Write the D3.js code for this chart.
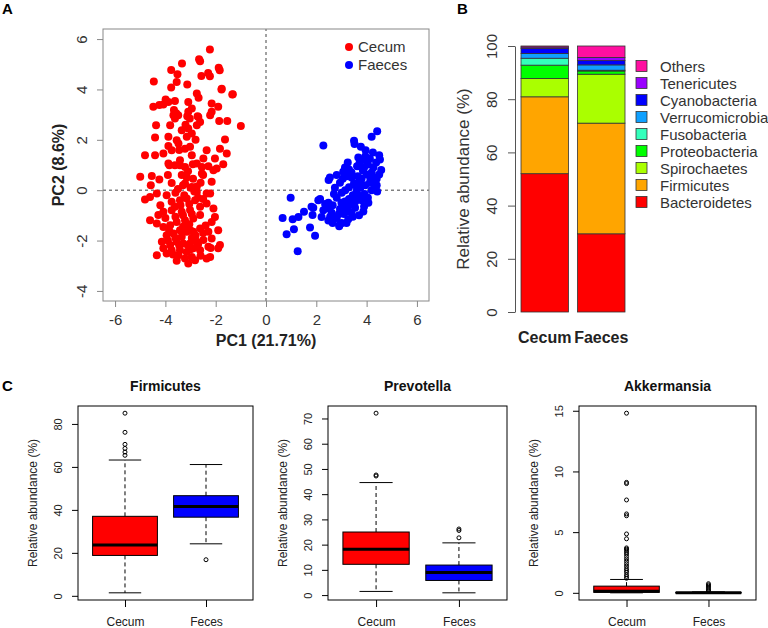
<!DOCTYPE html>
<html>
<head>
<meta charset="utf-8">
<script src="https://cdn.jsdelivr.net/npm/d3@7"></script>
<style>
  body { margin: 0; background: #fff; }
  svg { display: block; font-family: "Liberation Sans", Arial, Helvetica, sans-serif; }
</style>
</head>
<body>
<svg id="fig" width="768" height="628"></svg>
<script>
// ---- panel A: PCA scores (PC1, PC2) ----
const pcaCecum = [
  [-2.23,5.59],[-2.66,5.2],[-2.62,5.12],[-3.34,5.03],[-3.77,4.77],[-3.52,4.6],[-2.57,4.53],[-2.3,4.65],
  [-2.23,4.52],[-1.88,4.86],[-1.84,4.76],[-4.46,4.32],[-3.55,4.3],[-3.13,4.2],[-3.77,4.08],[-1.77,4.0],
  [-1.34,3.8],[-2.75,3.84],[-2.68,3.67],[-3.99,3.6],[-3.88,3.5],[-3.62,3.54],[-4.48,3.31],[-4.24,3.38],
  [-4.08,3.4],[-3.09,3.5],[-2.95,3.24],[-3.66,3.18],[-3.57,3.05],[-3.68,2.98],[-3.13,2.94],[-2.72,2.94],
  [-2.16,3.44],[-1.9,3.31],[-2.22,2.98],[-1.76,4.03],[-1.32,3.81],[-3.49,2.98],[-3.62,2.85],[-3.09,3.11],
  [-3.03,2.85],[-2.69,2.91],[-2.16,3.11],[-1.86,2.75],[-1.54,2.75],[-1.0,2.55],[-4.37,2.58],[-3.81,2.58],
  [-3.35,2.38],[-3.09,2.45],[-2.75,2.58],[-2.62,2.71],[-4.41,2.09],[-3.88,2.12],[-3.55,1.98],[-3.15,2.12],
  [-2.95,2.25],[-1.63,2.01],[-3.88,1.75],[-3.48,1.85],[-3.22,1.65],[-3.02,1.72],[-2.36,1.59],[-1.83,1.65],
  [-4.81,1.39],[-4.41,1.39],[-4.08,1.46],[-3.75,1.59],[-3.42,1.19],[-2.95,1.39],[-2.49,1.26],[-2.03,1.26],
  [-1.56,1.46],[-3.88,1.06],[-3.62,0.99],[-3.22,0.92],[-2.75,1.06],[-2.29,0.95],[-1.96,0.86],
  [-5.0,0.53],[-4.54,0.56],[-4.24,0.42],[-4.58,0.2],[-3.84,0.99],[-3.42,0.99],[-2.91,1.03],[-2.55,0.92],
  [-2.09,0.79],[-1.7,1.03],[-2.55,0.66],[-2.16,0.33],[-3.75,0.29],[-3.35,0.6],[-3.22,0.27],[-2.95,0.13],
  [-2.75,-0.07],[-2.36,-0.13],[-2.22,-0.13],[-4.81,-0.37],[-4.61,-0.27],[-4.34,-0.13],[-3.95,-0.2],
  [-3.75,-0.46],[-3.42,-0.4],[-3.15,-0.33],[-2.82,-0.4],[-2.36,-0.53],[-2.09,-0.73],[-2.62,-0.66],
  [-3.02,-0.79],[-3.35,-0.86],[-3.62,-0.66],[-4.08,-0.86],[-4.28,-0.99],[-4.61,-1.19],[-2.03,-1.06],
  [-2.16,-1.26],[-2.62,-0.99],[-2.89,-1.12],[-3.22,-1.19],[-3.55,-1.26],[-3.81,-1.39],[-4.08,-1.46],
  [-4.34,-1.32],[-1.9,-1.59],[-2.29,-1.65],[-2.62,-1.52],[-2.89,-1.65],[-3.15,-1.65],[-3.42,-1.59],
  [-3.68,-1.72],[-3.95,-1.79],[-4.14,-2.05],[-2.16,-1.92],[-2.49,-1.98],[-2.75,-2.05],[-3.02,-2.12],
  [-3.29,-2.12],[-3.55,-2.05],[-3.81,-2.18],[-4.08,-2.31],[-4.34,-2.58],[-1.83,-2.18],[-2.29,-2.25],
  [-2.62,-2.38],[-2.89,-2.31],[-3.15,-2.45],[-3.42,-2.38],[-3.75,-2.38],[-3.95,-2.51],[-3.48,-2.58],
  [-3.22,-2.71],[-2.95,-2.65],[-2.82,-2.78],[-2.36,-2.71],[-2.22,-2.65],[-3.09,-2.91],[-1.9,-2.31],
  [-3.0,0.1],[-2.85,-0.05],[-3.15,0.5],[-2.9,0.45],[-3.5,0.05],[-3.3,0.2],[-2.75,0.15],[-3.05,-0.55],
  [-2.7,-0.3],[-3.4,-0.6],[-3.3,-1.45],[-3.05,-1.35],[-2.8,-1.8],[-3.6,-1.05],[-3.0,-2.35],[-3.35,-1.85],
  [-3.6,-1.9],[-3.2,-1.5],[-2.95,-1.9],[-3.45,-2.2],[-3.7,-2.55],[-3.1,-2.2],[-2.7,-2.15],[-2.5,-1.7],
  [-3.85,-1.6],[-4.0,-1.1],[-3.3,-1.0],[-2.95,-0.95],[-2.5,-0.35],[-2.6,0.3],[-3.1,0.75],[-3.45,1.6],
  [-3.2,2.6],[-2.8,2.0],[-3.6,-0.1],[-3.9,0.6],[-4.2,-0.6],[-3.55,-2.8],[-2.6,-2.6],[-3.9,-2.0],
  [-3.0,-1.6],[-2.4,-1.4],[-2.2,-2.3],[-3.75,-0.8],[-3.25,-0.2],[-2.5,0.6]
];
const pcaFaeces = [
  [4.42,2.34],[4.2,2.12],[3.5,1.96],[3.52,1.83],[3.77,1.72],[3.96,1.59],[2.28,1.77],[4.5,1.39],[4.53,1.22],
  [4.58,0.8],[3.67,1.3],[3.9,1.2],[4.13,1.25],[4.38,1.1],[3.72,1.08],[4.05,1.02],[3.14,0.9],[3.4,0.7],
  [3.62,0.95],[3.85,0.78],[4.0,0.62],[4.27,0.9],[4.5,0.62],[3.3,0.82],[4.4,0.45],[2.54,0.5],[2.94,0.3],
  [3.2,0.55],[3.5,0.28],[3.8,0.45],[4.13,0.3],[4.4,0.2],[2.81,0.6],[3.07,0.73],[3.65,0.55],[3.95,0.2],
  [4.3,0.5],[2.74,0.1],[3.01,-0.1],[3.3,0.12],[3.6,-0.05],[3.92,-0.15],[4.2,0.0],[4.42,-0.05],[3.45,-0.2],
  [3.15,0.0],[3.75,0.1],[4.05,-0.3],[2.15,-0.35],[2.48,-0.5],[2.81,-0.3],[3.14,-0.45],[3.47,-0.55],
  [3.8,-0.4],[4.07,-0.5],[2.65,-0.6],[3.0,-0.5],[3.3,-0.35],[3.65,-0.3],[3.9,-0.65],[1.88,-0.7],
  [2.28,-0.8],[2.61,-0.9],[2.94,-0.75],[3.27,-0.85],[3.54,-0.7],[3.87,-0.85],[2.45,-0.72],[3.1,-0.95],
  [3.7,-1.0],[2.21,-1.06],[2.48,-1.2],[2.81,-1.1],[3.01,-1.3],[3.27,-1.15],[2.65,-1.3],[3.45,-1.05],
  [0.98,-0.3],[0.66,-1.1],[1.06,-1.15],[1.29,-1.06],[1.51,-0.86],[1.81,-0.66],[1.85,-0.99],[2.08,-0.4],
  [1.75,-1.48],[1.95,-1.81],[1.11,-1.55],[0.82,-1.75],[1.26,-2.42],[2.49,0.4],[2.91,-1.43],[2.94,-1.35],
  [3.2,-1.3],[3.4,0.5],[3.9,0.9],[4.2,0.7],[3.6,0.15],[3.3,-0.6],[2.9,-0.95],[3.55,-0.45],[4.15,0.45],
  [3.7,0.3],[2.7,-0.15],[2.35,-0.55],[3.85,-0.2],[4.3,0.25],[3.15,-0.7],[2.55,-1.05],[3.4,-0.9],
  [3.05,0.45],[3.95,1.35],[4.25,1.5],[3.25,1.1]
];
const pcTicksX = [-6, -4, -2, 0, 2, 4, 6];
const pcTicksY = [-4, -2, 0, 2, 4, 6];

// ---- panel B: phylum composition (%) ----
const samples = ["Cecum", "Faeces"];
const phyla = ["Bacteroidetes", "Firmicutes", "Spirochaetes", "Proteobacteria", "Fusobacteria",
               "Verrucomicrobia", "Cyanobacteria", "Tenericutes", "Others"];
const phylaColors = ["#ff0000", "#ffa500", "#aaff00", "#00ff00", "#33ffbb",
                     "#0fa0ff", "#0000ff", "#9a00ff", "#ff0fa0"];
const cecumAbund  = [52.0, 28.9, 6.9, 5.0, 2.6, 1.8, 1.9, 0.5, 0.4];
const faecesAbund = [29.4, 41.6, 18.4, 1.2, 0.3, 2.0, 1.6, 1.2, 4.3];
const abundTicks = [0, 20, 40, 60, 80, 100];

// ---- panel C: genus boxplots, [lower whisker, Q1, median, Q3, upper whisker] ----
const groups = ["Cecum", "Feces"];
const firmicutesStats  = [[1.4, 18.8, 23.6, 37.0, 63.2], [24.2, 36.6, 41.6, 46.6, 61.1]];
const firmicutesOut    = [[65.4, 66.9, 68.6, 70.5, 76.1, 85.0], [16.8]];
const prevotellaStats  = [[1.45, 12.2, 18.2, 25.0, 44.6], [0.9, 5.8, 9.0, 11.9, 20.7]];
const prevotellaOut    = [[47.2, 47.6, 72.1], [22.7, 25.6, 26.2]];
const akkermansiaStats = [[0.0, 0.04, 0.12, 0.55, 1.1], [0.0, 0.0, 0.01, 0.03, 0.08]];
const akkermansiaOut   = [[1.2, 1.35, 1.5, 1.7, 1.85, 2.0, 2.2, 2.4, 2.6, 2.8, 3.0, 3.2, 3.35, 3.5, 3.6, 3.7,
                           4.45, 4.85, 6.35, 6.5, 7.65, 9.0, 9.1, 14.8],
                          [0.15, 0.25, 0.35, 0.45, 0.55, 0.65, 0.75]];
const firmicutesTicks  = [0, 20, 40, 60, 80];
const prevotellaTicks  = [0, 10, 20, 30, 40, 50, 60, 70];
const akkermansiaTicks = [0, 5, 10, 15];
const groupColors = ["#ff0000", "#0000ff"];

const svg = d3.select("#fig");
const fmt = d => String(d);

// rotate y tick labels like R's default (las = 0)
function rotateYLabels(g, off) {
  g.selectAll(".tick text")
    .attr("transform", "rotate(-90)")
    .attr("x", 0)
    .attr("y", -off)
    .attr("dy", 0)
    .attr("text-anchor", "middle");
}

// panel letters
[["A", 2, 14], ["B", 457, 14], ["C", 2, 391]].forEach(([t, x, y]) => {
  svg.append("text").attr("x", x).attr("y", y).attr("font-size", 15)
    .attr("font-weight", "bold").text(t);
});

// ================= A =================
const xA = d3.scaleLinear().domain([-6.48, 6.48]).range([103, 429]);
const yA = d3.scaleLinear().domain([-4.4, 6.4]).range([301, 29]);
const gA = svg.append("g");

gA.append("line").attr("x1", xA(0)).attr("x2", xA(0)).attr("y1", yA.range()[0]).attr("y2", yA.range()[1])
  .attr("stroke", "#444").attr("stroke-dasharray", "3,3");
gA.append("line").attr("x1", xA.range()[0]).attr("x2", xA.range()[1]).attr("y1", yA(0)).attr("y2", yA(0))
  .attr("stroke", "#444").attr("stroke-dasharray", "3,3");

gA.append("g").selectAll("circle").data(pcaCecum).join("circle")
  .attr("cx", d => xA(d[0])).attr("cy", d => yA(d[1])).attr("r", 4).attr("fill", "#ff0000");
gA.append("g").selectAll("circle").data(pcaFaeces).join("circle")
  .attr("cx", d => xA(d[0])).attr("cy", d => yA(d[1])).attr("r", 4).attr("fill", "#0000ff");

gA.append("rect").attr("x", 103).attr("y", 29).attr("width", 326).attr("height", 272)
  .attr("fill", "none").attr("stroke", "#888");

const axA_x = gA.append("g").attr("transform", "translate(0,301)")
  .call(d3.axisBottom(xA).tickValues(pcTicksX).tickFormat(fmt).tickSize(6).tickPadding(7));
const axA_y = gA.append("g").attr("transform", "translate(103,0)")
  .call(d3.axisLeft(yA).tickValues(pcTicksY).tickFormat(fmt).tickSize(6));
[axA_x, axA_y].forEach(a => {
  a.select(".domain").remove();
  a.selectAll(".tick line").attr("stroke", "#888");
  a.selectAll(".tick text").attr("font-size", 15).attr("fill", "#333")
    .attr("font-family", "Liberation Sans, Arial, sans-serif");
});
rotateYLabels(axA_y, 16);

gA.append("text").attr("x", 266).attr("y", 346).attr("text-anchor", "middle")
  .attr("font-size", 16).attr("font-weight", "bold").attr("fill", "#222").text("PC1 (21.71%)");
gA.append("text").attr("transform", "translate(64,165) rotate(-90)").attr("text-anchor", "middle")
  .attr("font-size", 16).attr("font-weight", "bold").attr("fill", "#222").text("PC2 (8.6%)");

const legA = gA.append("g");
[["Cecum", "#ff0000"], ["Faeces", "#0000ff"]].forEach(([lab, col], i) => {
  legA.append("circle").attr("cx", 349).attr("cy", 47 + i * 18).attr("r", 4).attr("fill", col);
  legA.append("text").attr("x", 358).attr("y", 52 + i * 18).attr("font-size", 15)
    .attr("fill", "#333").text(lab);
});

// ================= B =================
const yB = d3.scaleLinear().domain([0, 100]).range([312, 46]);
const xB = d3.scaleBand().domain(samples).range([521, 625]).paddingInner(0.16).paddingOuter(0);
const rowsB = samples.map((s, i) => {
  const vals = i === 0 ? cecumAbund : faecesAbund;
  const row = { sample: s };
  phyla.forEach((p, j) => { row[p] = vals[j]; });
  return row;
});
const stackB = d3.stack().keys(phyla)(rowsB);
const colorB = d3.scaleOrdinal().domain(phyla).range(phylaColors);
const gB = svg.append("g");

gB.selectAll("g.layer").data(stackB).join("g").attr("class", "layer")
  .attr("fill", d => colorB(d.key))
  .selectAll("rect").data(d => d).join("rect")
  .attr("x", d => xB(d.data.sample))
  .attr("width", xB.bandwidth())
  .attr("y", d => yB(d[1]))
  .attr("height", d => yB(d[0]) - yB(d[1]))
  .attr("stroke", "#333").attr("stroke-width", 0.8);

const axB = gB.append("g").attr("transform", "translate(515,0)")
  .call(d3.axisLeft(yB).tickValues(abundTicks).tickFormat(fmt).tickSize(7).tickSizeOuter(0));
axB.select(".domain").attr("stroke", "#555");
axB.selectAll(".tick line").attr("stroke", "#555");
axB.selectAll(".tick text").attr("font-size", 15).attr("fill", "#333");
rotateYLabels(axB, 18);

gB.append("text").attr("transform", "translate(469,179) rotate(-90)").attr("text-anchor", "middle")
  .attr("font-size", 17).attr("fill", "#333").text("Relative abundance (%)");

samples.forEach(s => {
  gB.append("text").attr("x", xB(s) + xB.bandwidth() / 2).attr("y", 343)
    .attr("text-anchor", "middle").attr("font-size", 16).attr("font-weight", "bold")
    .attr("fill", "#222").text(s);
});

const legB = gB.append("g");
phyla.slice().reverse().forEach((p, i) => {
  const cy = 66 + i * 17;
  legB.append("rect").attr("x", 636).attr("y", cy - 5.5).attr("width", 11).attr("height", 11)
    .attr("fill", colorB(p)).attr("stroke", "#333").attr("stroke-width", 0.8);
  legB.append("text").attr("x", 660).attr("y", cy + 5.5).attr("font-size", 15)
    .attr("fill", "#333").text(p);
});

// ================= C =================
function boxPanel(opt) {
  const { left, right, title, stats, outliers, ticks } = opt;
  const top = 406, bottom = 600;
  const all = stats.flat().concat(outliers.flat());
  const lo = d3.min(all), hi = d3.max(all), ext = (hi - lo) * 0.04;
  const y = d3.scaleLinear().domain([lo - ext, hi + ext]).range([bottom, top]);
  const x = d3.scaleLinear().domain([0.42, 2.58]).range([left, right]);
  const g = svg.append("g");

  stats.forEach((s, i) => {
    const cx = x(i + 1), hw = x(1.4) - x(1), sw = hw / 2;
    const [wl, q1, md, q3, wh] = s;
    g.append("line").attr("x1", cx).attr("x2", cx).attr("y1", y(q3)).attr("y2", y(wh))
      .attr("stroke", "#000").attr("stroke-dasharray", "4,3");
    g.append("line").attr("x1", cx).attr("x2", cx).attr("y1", y(q1)).attr("y2", y(wl))
      .attr("stroke", "#000").attr("stroke-dasharray", "4,3");
    g.append("line").attr("x1", cx - sw).attr("x2", cx + sw).attr("y1", y(wh)).attr("y2", y(wh))
      .attr("stroke", "#000");
    g.append("line").attr("x1", cx - sw).attr("x2", cx + sw).attr("y1", y(wl)).attr("y2", y(wl))
      .attr("stroke", "#000");
    g.append("rect").attr("x", cx - hw).attr("width", 2 * hw)
      .attr("y", y(q3)).attr("height", Math.max(0.5, y(q1) - y(q3)))
      .attr("fill", groupColors[i]).attr("stroke", "#000");
    g.append("line").attr("x1", cx - hw).attr("x2", cx + hw).attr("y1", y(md)).attr("y2", y(md))
      .attr("stroke", "#000").attr("stroke-width", 3);
    g.selectAll(null).data(outliers[i]).join("circle")
      .attr("cx", cx).attr("cy", d => y(d)).attr("r", 2)
      .attr("fill", "none").attr("stroke", "#000").attr("stroke-width", 1);
  });

  g.append("rect").attr("x", left).attr("y", top).attr("width", right - left).attr("height", bottom - top)
    .attr("fill", "none").attr("stroke", "#000");

  const ay = g.append("g").attr("transform", `translate(${left},0)`)
    .call(d3.axisLeft(y).tickValues(ticks).tickFormat(fmt).tickSize(6));
  const ax = g.append("g").attr("transform", `translate(0,${bottom})`)
    .call(d3.axisBottom(x).tickValues([1, 2]).tickFormat((d, i) => groups[i]).tickSize(7).tickPadding(10));
  [ay, ax].forEach(a => {
    a.select(".domain").remove();
    a.selectAll(".tick line").attr("stroke", "#000");
    a.selectAll(".tick text").attr("fill", "#222");
  });
  ay.selectAll(".tick text").attr("font-size", 11);
  ax.selectAll(".tick text").attr("font-size", 12);
  rotateYLabels(ay, 16);

  g.append("text").attr("transform", `translate(${left - 41},${(top + bottom) / 2}) rotate(-90)`)
    .attr("text-anchor", "middle").attr("font-size", 12).attr("fill", "#222")
    .text("Relative abundance (%)");
  g.append("text").attr("x", (left + right) / 2).attr("y", 391).attr("text-anchor", "middle")
    .attr("font-size", 14).attr("font-weight", "bold").attr("fill", "#111").text(title);
}

boxPanel({ left: 78, right: 253, title: "Firmicutes", stats: firmicutesStats,
           outliers: firmicutesOut, ticks: firmicutesTicks });
boxPanel({ left: 328, right: 507, title: "Prevotella", stats: prevotellaStats,
           outliers: prevotellaOut, ticks: prevotellaTicks });
boxPanel({ left: 579, right: 756, title: "Akkermansia", stats: akkermansiaStats,
           outliers: akkermansiaOut, ticks: akkermansiaTicks });
</script>
</body>
</html>
